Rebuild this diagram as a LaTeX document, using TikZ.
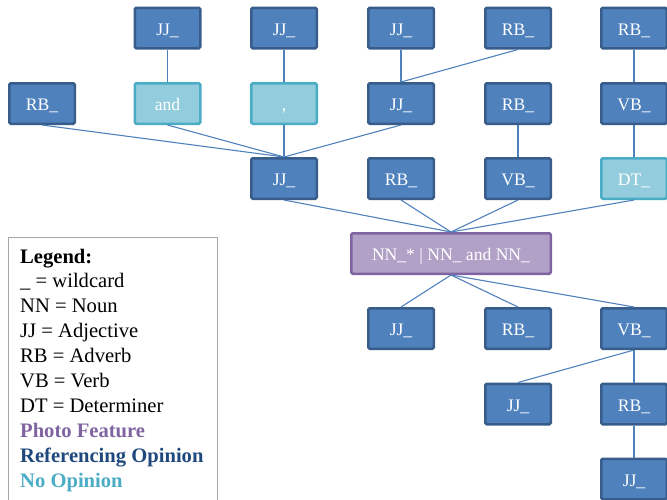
\documentclass[tikz,border=0pt]{standalone}
\usepackage{fontspec}
\setmainfont{Liberation Serif}
\definecolor{bfill}{HTML}{4F81BD}
\definecolor{bdraw}{HTML}{385D8A}
\definecolor{lfill}{HTML}{93CDDD}
\definecolor{ldraw}{HTML}{4BACC6}
\definecolor{pfill}{HTML}{B2A1C7}
\definecolor{pdraw}{HTML}{8064A2}
\definecolor{refc}{HTML}{1F497D}
\definecolor{edgec}{HTML}{4F81BD}
\tikzset{
  tag/.style={rectangle, rounded corners=1.5pt, line width=2.5pt, minimum width=65.5pt, minimum height=40.5pt, inner sep=0pt, text height=14.5pt, text depth=0pt, text=white, font=\fontsize{17.6}{20}\selectfont},
  opin/.style={tag, fill=bfill, draw=bdraw},
  noop/.style={tag, fill=lfill, draw=ldraw},
  photo/.style={tag, fill=pfill, draw=pdraw, minimum width=199.5pt},
  link/.style={draw=edgec, line width=1.1pt},
}
\begin{document}
\begin{tikzpicture}[x=1pt,y=-1pt]
\useasboundingbox (0,0) rectangle (667,499);
% row 1
\node[opin] (a1) at (167.5,28) {JJ\_};
\node[opin] (a2) at (284,28) {JJ\_};
\node[opin] (a3) at (401,28) {JJ\_};
\node[opin] (a4) at (518,28) {RB\_};
\node[opin] (a5) at (634,28) {RB\_};
% row 2
\node[opin] (b0) at (42,103.5) {RB\_};
\node[noop] (b1) at (167.5,103.5) {and};
\node[noop] (b2) at (284,103.5) {,};
\node[opin] (b3) at (401,103.5) {JJ\_};
\node[opin] (b4) at (518,103.5) {RB\_};
\node[opin] (b5) at (634,103.5) {VB\_};
% row 3
\node[opin] (c2) at (284,178.5) {JJ\_};
\node[opin] (c3) at (401,178.5) {RB\_};
\node[opin] (c4) at (518,178.5) {VB\_};
\node[noop] (c5) at (634,178.5) {DT\_};
% centre
\node[photo] (nn) at (451,253.5) {NN\_* | NN\_ and NN\_};
% below
\node[opin] (d3) at (401,328.5) {JJ\_};
\node[opin] (d4) at (518,328.5) {RB\_};
\node[opin] (d5) at (634,328.5) {VB\_};
\node[opin] (e4) at (518,404) {JJ\_};
\node[opin] (e5) at (634,404) {RB\_};
\node[opin] (f5) at (634,479) {JJ\_};
% edges
\path[link] (a1.south) -- (b1.north);
\path[link] (a2.south) -- (b2.north);
\path[link] (a3.south) -- (b3.north);
\path[link] (a4.south) -- (b3.north);
\path[link] (a5.south) -- (b5.north);
\path[link] (b0.south) -- (c2.north);
\path[link] (b1.south) -- (c2.north);
\path[link] (b2.south) -- (c2.north);
\path[link] (b3.south) -- (c2.north);
\path[link] (b4.south) -- (c4.north);
\path[link] (b5.south) -- (c5.north);
\path[link] (c2.south) -- (nn.north);
\path[link] (c3.south) -- (nn.north);
\path[link] (c4.south) -- (nn.north);
\path[link] (c5.south) -- (nn.north);
\path[link] (nn.south) -- (d3.north);
\path[link] (nn.south) -- (d4.north);
\path[link] (nn.south) -- (d5.north);
\path[link] (d5.south) -- (e4.north);
\path[link] (d5.south) -- (e5.north);
\path[link] (e5.south) -- (f5.north);
% legend
\node[draw=black!35, line width=1pt, minimum width=209pt, minimum height=275pt, anchor=north west, inner sep=0pt] (legbox) at (8,237) {};
\node[anchor=north west, inner sep=0pt, align=left, font=\fontsize{20.6}{24.9}\selectfont] (legtext) at (20,248.5) {%
\textbf{Legend:}\\
\_ = wildcard\\
NN = Noun\\
JJ = Adjective\\
RB = Adverb\\
VB = Verb\\
DT = Determiner\\
\textcolor{pdraw}{\textbf{Photo Feature}}\\
\textcolor{refc}{\textbf{Referencing Opinion}}\\
\textcolor{ldraw}{\textbf{No Opinion}}};
\end{tikzpicture}
\end{document}
